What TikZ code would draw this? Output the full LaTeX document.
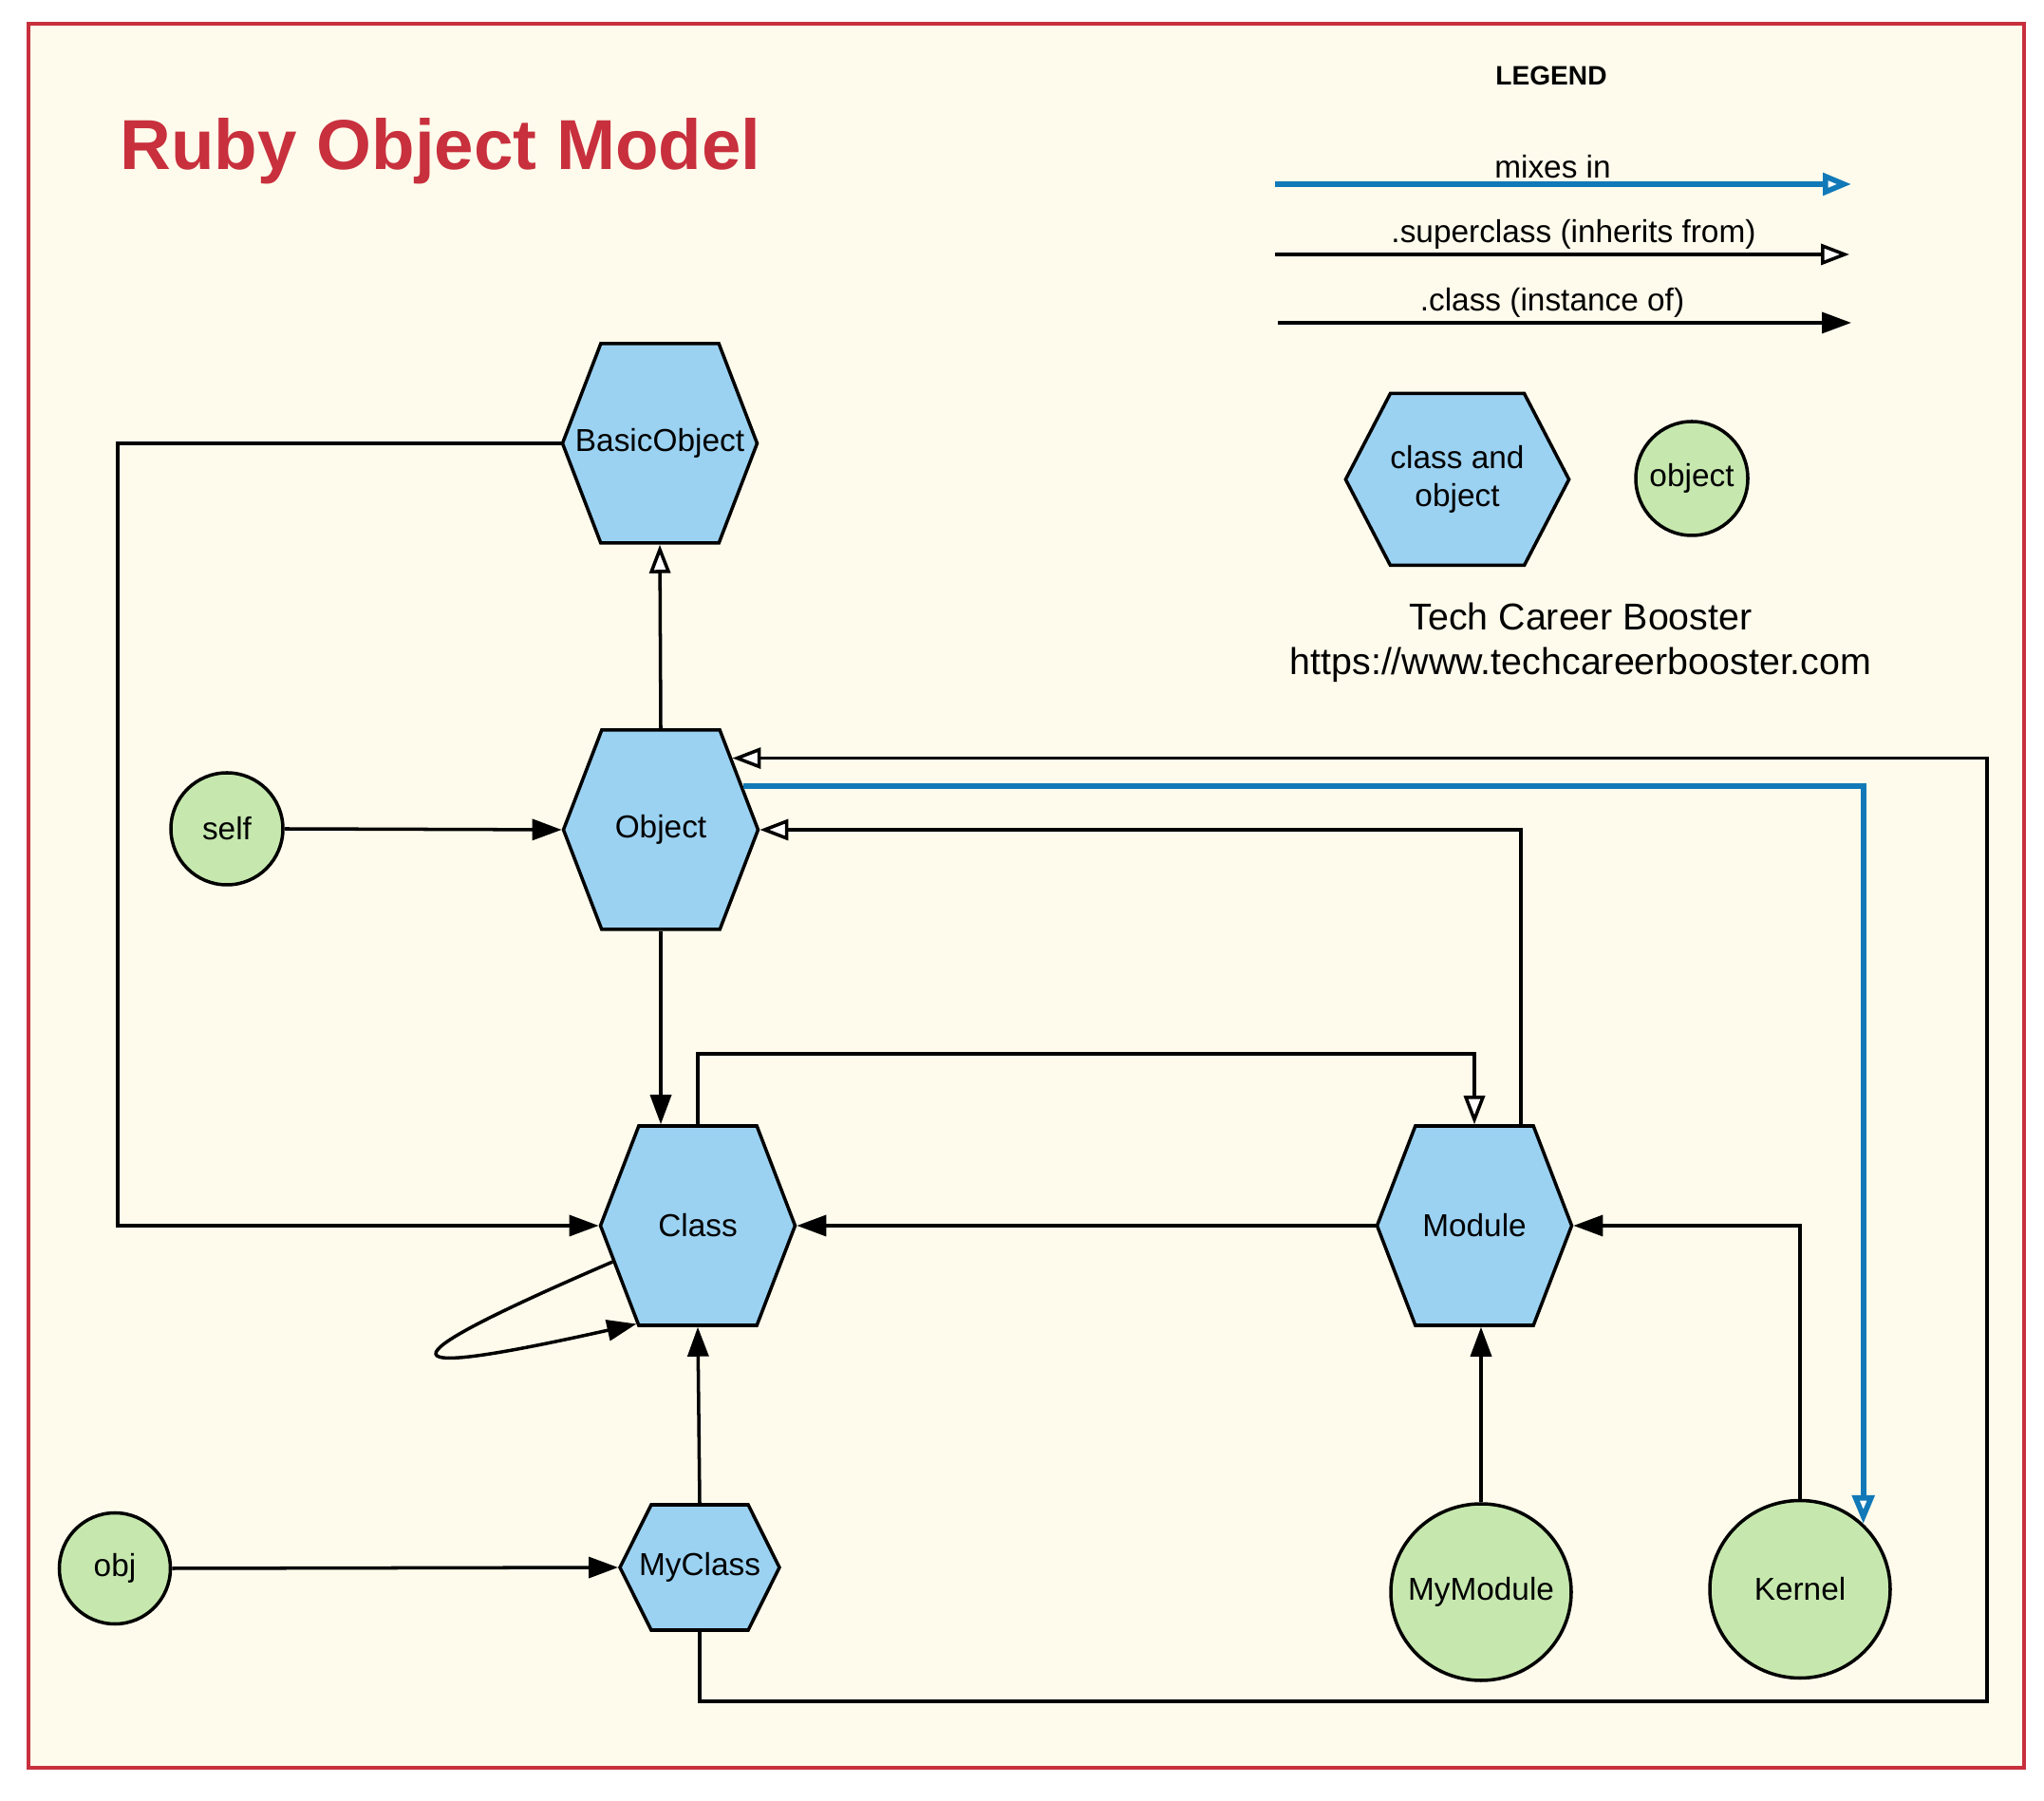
\documentclass[tikz,border=0pt]{standalone}
\usepackage{fontspec}
\setmainfont{Liberation Sans}
\usetikzlibrary{shapes.geometric,shapes.symbols,arrows.meta}

\definecolor{frame}{HTML}{C8303D}
\definecolor{paper}{HTML}{FEFBEC}
\definecolor{hexblue}{HTML}{9BD2F2}
\definecolor{objgreen}{HTML}{C6E8AE}
\definecolor{mixblue}{HTML}{1279B8}

\begin{document}
\begin{tikzpicture}[
  font=\fontsize{9.5}{11.4}\selectfont,
  klass/.style={draw, line width=1pt, fill=hexblue, shape=signal, signal to=east and west,
    signal pointer angle=138, minimum width=2.05cm, minimum height=2.1cm, inner sep=0pt, align=center},
  instance/.style={draw, line width=1pt, fill=objgreen, ellipse, minimum width=1.18cm,
    minimum height=1.18cm, inner sep=0pt},
  instanceof/.style={-{Triangle[length=0.31cm, width=0.22cm]}, line width=1pt},
  inherits/.style={-{Triangle[length=0.3cm, width=0.22cm, fill=white]}, line width=1pt},
  mixesin/.style={-{Triangle[length=0.3cm, width=0.23cm, fill=white]}, line width=1.6pt, mixblue}
]
\useasboundingbox (0,0) rectangle (21.53,18.96);
\draw[frame, line width=1pt, fill=paper] (0.30,0.34) rectangle (21.32,18.71);

% Title and legend
\node[font=\fontsize{21.2}{25}\selectfont\bfseries, text=frame] (title) at (4.64,17.37) {Ruby Object Model};
\node[font=\fontsize{8}{9}\selectfont\bfseries] (legend) at (16.34,18.16) {LEGEND};

\coordinate (mixA) at (13.43,17.02);
\coordinate (mixB) at (19.50,17.02);
\coordinate (supA) at (13.43,16.28);
\coordinate (supB) at (19.48,16.28);
\coordinate (insA) at (13.46,15.56);
\coordinate (insB) at (19.50,15.56);

\draw[mixesin] (mixA) -- node[midway, above, inner sep=1pt, xshift=-0.11cm, text=black] {mixes in} (mixB);
\draw[inherits] (supA) -- node[midway, above, inner sep=1pt, xshift=0.12cm] {.superclass (inherits from)} (supB);
\draw[instanceof] (insA) -- node[midway, above, inner sep=1pt, xshift=-0.13cm] {.class (instance of)} (insB);

\node[klass, minimum width=2.35cm, minimum height=1.81cm, signal pointer angle=125] (legklass) at (15.35,13.91) {class and\\object};
\node[instance, minimum height=1.2cm] (legobject) at (17.82,13.92) {\makebox[0pt]{object}};

\node[font=\fontsize{11.2}{13.3}\selectfont, align=center] (credit) at (16.65,12.19) {Tech Career Booster\\https://www.techcareerbooster.com};

% Classes
\node[klass] (BasicObject) at (6.95,14.29) {\makebox[0pt]{BasicObject}};
\node[klass] (Object) at (6.96,10.22) {Object};
\node[klass] (Class) at (7.35,6.05) {Class};
\node[klass] (Module) at (15.53,6.05) {Module};
\node[klass, minimum width=1.68cm, minimum height=1.32cm, signal pointer angle=127] (MyClass) at (7.37,2.45) {\makebox[0pt]{MyClass}};

% Objects
\node[instance] (self) at (2.39,10.23) {self};
\node[instance, minimum width=1.17cm, minimum height=1.17cm] (obj) at (1.21,2.44) {obj};
\node[instance, minimum width=1.9cm, minimum height=1.86cm] (MyModule) at (15.60,2.19) {\makebox[0pt]{MyModule}};
\node[instance, minimum width=1.9cm, minimum height=1.87cm] (Kernel) at (18.96,2.22) {Kernel};

\coordinate (leftbend) at (1.24,6.05);
\coordinate (rightbend) at (20.93,1.04);

% Connectors
\draw[inherits] (Object.north) -- (BasicObject.south);
\draw[instanceof] (BasicObject.west) -| (leftbend) -- (Class.west);
\draw[instanceof] (self.east) -- (Object.west);
\draw[instanceof] (Object.south) -- (Object.south |- Class.north);
\draw[inherits] (Class.north) -- ++(0,0.74) -| (Module.north);
\draw[inherits] ([xshift=0.49cm]Module.north) |- (Object.east);
\draw[instanceof] (Module.west) -- (Class.east);
\draw[instanceof] (Class.203) .. controls +(-2.6,-1.12) and +(-2.6,-0.58) .. (Class.238);
\draw[instanceof] (MyClass.north) -- (Class.south);
\draw[instanceof] (obj.east) -- (MyClass.west);
\draw[inherits] (MyClass.south) |- (rightbend) |- (Object.45);
\draw[mixesin] (Object.28) -| (Kernel.46);
\draw[instanceof] (MyModule.north) -- (MyModule.north |- Module.south);
\draw[instanceof] (Kernel.north) |- (Module.east);

\end{tikzpicture}
\end{document}
